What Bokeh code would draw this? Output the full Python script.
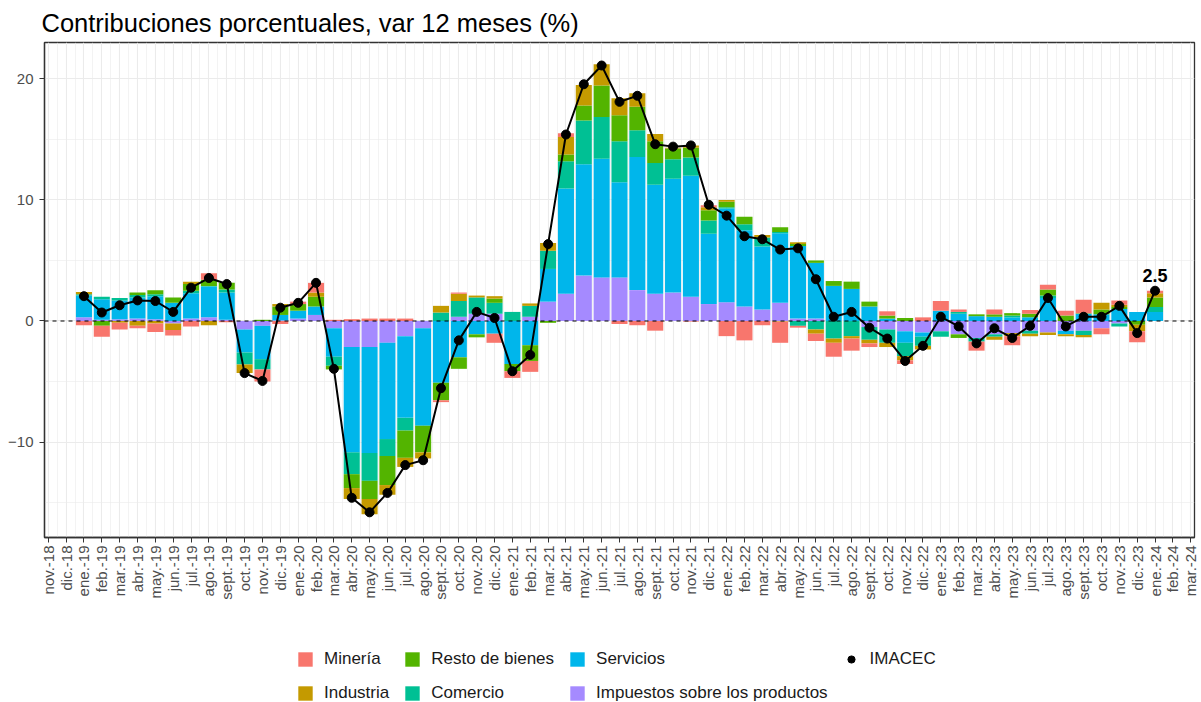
import numpy as np
from bokeh.plotting import figure
from bokeh.layouts import column
from bokeh.models import FixedTicker, Span, Legend, LegendItem, ColumnDataSource
from bokeh.embed import file_html
from bokeh.resources import INLINE
from bokeh.core.properties import value

# ---------------- data ----------------
axis_labels = [
    "nov.-18", "dic.-18",
    "ene.-19", "feb.-19", "mar.-19", "abr.-19", "may.-19", "jun.-19",
    "jul.-19", "ago.-19", "sept.-19", "oct.-19", "nov.-19", "dic.-19",
    "ene.-20", "feb.-20", "mar.-20", "abr.-20", "may.-20", "jun.-20",
    "jul.-20", "ago.-20", "sept.-20", "oct.-20", "nov.-20", "dic.-20",
    "ene.-21", "feb.-21", "mar.-21", "abr.-21", "may.-21", "jun.-21",
    "jul.-21", "ago.-21", "sept.-21", "oct.-21", "nov.-21", "dic.-21",
    "ene.-22", "feb.-22", "mar.-22", "abr.-22", "may.-22", "jun.-22",
    "jul.-22", "ago.-22", "sept.-22", "oct.-22", "nov.-22", "dic.-22",
    "ene.-23", "feb.-23", "mar.-23", "abr.-23", "may.-23", "jun.-23",
    "jul.-23", "ago.-23", "sept.-23", "oct.-23", "nov.-23", "dic.-23",
    "ene.-24", "feb.-24", "mar.-24",
]

meses = axis_labels[2:63]  # ene.-19 ... ene.-24

mineria = [-0.35, -0.9, -0.55, -0.2, -0.7, -0.45, -0.45, 0.55, -0.1, 0.0, -1.0, -0.25,
           0.2, 0.8, 0.1, 0.15, 0.2, 0.2, 0.2, 0.0, -0.15, 0.1, 0.0, -0.75,
           -0.55, -0.9, 0.0, 0.3, 0.0, 0.0, -0.25, -0.35, -0.8, 0.0, -0.05, 0.15,
           -1.25, -1.6, -0.35, -1.75, -0.15, -0.6, -1.15, -1.0, -0.3, 0.35, -0.3, 0.3,
           0.8, 0.2, -0.75, 0.4, -0.75, 0.3, 0.4, 0.4, 1.1, -0.5, 0.35, -0.9,
           0.2]
industria = [0.2, 0.0, -0.15, -0.4, -0.2, -0.55, 0.2, -0.35, 0.0, -0.7, 0.0, 0.2,
             0.0, 0.35, 0.0, -0.9, -1.25, -0.8, -0.75, -0.5, 0.55, 0.6, 0.15, 0.2,
             0.0, 0.2, 0.65, 1.45, 1.7, 1.75, 1.4, 1.1, 0.6, 0.05, 0.2, 0.25,
             0.15, 0.0, 0.2, -0.05, 0.15, -0.35, -0.35, -0.2, -0.3, -0.35, -0.35, -0.3,
             0.0, 0.0, 0.0, -0.25, -0.25, -0.2, -0.2, -0.15, -0.2, 0.55, 0.2, -0.55,
             0.35]
resto = [0.0, -0.4, 0.0, 0.2, 0.33, 0.45, 0.55, 0.5, 0.55, 0.0, 0.1, 0.7,
         0.55, 0.8, -0.3, -1.15, -1.5, -2.4, -2.25, -2.2, -1.45, -0.95, -0.25, 0.35,
         -0.6, -1.3, -0.15, 0.55, 1.25, 2.6, 2.15, 1.95, 1.8, 0.9, 0.8, 0.85,
         0.45, 0.6, 0.0, 0.4, 0.15, 0.2, 0.4, 0.6, 0.4, 0.25, 0.25, 0.0,
         0.0, -0.3, 0.15, 0.2, 0.2, 0.3, 0.5, 0.45, 0.05, 0.4, 0.15, -0.3,
         0.8]
comercio = [0.1, 0.2, 0.2, 0.2, 0.15, 0.0, 0.2, 0.05, 0.25, -1.0, -0.85, 0.0,
            0.0, 0.0, -0.75, -1.8, -2.3, -1.4, -1.05, 0.0, 0.7, 1.3, 1.35, 0.9,
            0.75, 0.9, 1.5, 2.25, 3.6, 3.45, 3.4, 2.2, 1.8, 1.6, 1.5, 1.1,
            0.1, 0.5, 0.75, 0.1, -0.4, -0.7, -1.45, -1.25, -1.05, -1.1, -1.1, -0.75,
            -0.45, 0.15, -0.3, -0.2, 0.15, -0.25, 0.2, 0.0, -0.35, 0.0, -0.25, 0.0,
            0.4]
servicios = [1.8, 1.7, 1.55, 1.75, 1.9, 1.5, 2.1, 2.55, 2.25, -1.9, -2.75, 0.45,
             0.65, 0.7, -2.35, -8.7, -8.75, -7.95, -6.75, -8.05, -5.1, -3.0, -1.1, -1.05,
             -3.55, -2.0, 2.7, 8.7, 9.2, 9.8, 7.85, 11.0, 9.0, 9.4, 10.0, 5.8,
             7.75, 6.3, 5.2, 5.75, 6.0, 4.6, 2.9, 2.65, 1.2, 0.2, -0.95, -0.35,
             0.85, 0.6, 0.4, 0.35, 0.3, 0.3, 1.9, -0.3, 0.6, 0.55, 1.0, 0.75,
             0.75]
impuestos = [0.3, 0.1, 0.15, 0.2, 0.15, -0.2, 0.2, 0.3, 0.1, -0.7, -0.4, 0.05,
             0.2, 0.5, -0.6, -2.15, -2.15, -1.8, -1.25, -0.6, 0.0, 0.35, 0.6, 0.6,
             0.0, 0.35, 1.6, 2.25, 3.75, 3.6, 3.6, 2.55, 2.25, 2.35, 2.0, 1.4,
             1.55, 1.2, 0.95, 1.5, 0.2, 0.2, 0.0, 0.0, -0.5, -0.7, -0.85, -0.95,
             -0.85, -1.1, -1.4, -1.1, -1.0, -0.8, -0.95, -0.8, -0.8, -0.6, -0.2, 0.0,
             0.0]
imacec = [2.05, 0.7, 1.3, 1.7, 1.65, 0.75, 2.75, 3.55, 3.05, -4.3, -4.95, 1.1,
          1.5, 3.15, -3.95, -14.6, -15.8, -14.2, -11.9, -11.5, -5.55, -1.6, 0.75, 0.25,
          -4.15, -2.8, 6.35, 15.4, 19.55, 21.1, 18.1, 18.6, 14.6, 14.4, 14.5, 9.6,
          8.7, 7.0, 6.75, 5.9, 6.0, 3.45, 0.35, 0.75, -0.55, -1.45, -3.3, -2.05,
          0.35, -0.45, -1.85, -0.6, -1.4, -0.4, 1.9, -0.45, 0.35, 0.35, 1.25, -1.0,
          2.5]

legend_order = ["Minería", "Industria", "Resto de bienes", "Comercio",
                "Servicios", "Impuestos sobre los productos"]
colors = {"Minería": "#F8766D", "Industria": "#C49A00", "Resto de bienes": "#53B400",
          "Comercio": "#00C094", "Servicios": "#00B6EB",
          "Impuestos sobre los productos": "#A58AFF"}
series = {"Minería": mineria, "Industria": industria, "Resto de bienes": resto,
          "Comercio": comercio, "Servicios": servicios,
          "Impuestos sobre los productos": impuestos}

# ---------------- main figure ----------------
FONT = "Liberation Sans"
x = np.array([axis_labels.index(m) for m in meses], dtype=float)
n_lab = len(axis_labels)
XR = (-0.21, n_lab - 1 + 0.21)

p = figure(width=1200, height=640, output_backend="svg", toolbar_location=None,
           x_range=XR, y_range=(-17.88, 23.0),
           min_border_left=44, min_border_right=6, min_border_top=42,
           min_border_bottom=103,
           title="Contribuciones porcentuales, var 12 meses (%)")
p.background_fill_color = "white"
p.border_fill_color = "white"
p.outline_line_color = "#333333"
p.outline_line_width = 1.3
p.outline_line_alpha = 1.0

p.title.text_font = FONT
p.title.text_font_size = "25.5px"
p.title.text_font_style = "normal"
p.title.text_color = "black"
p.title.offset = -3
p.title.standoff = 12

# axes
p.xaxis.ticker = FixedTicker(ticks=list(range(n_lab)),
                             minor_ticks=[i + 0.5 for i in range(n_lab - 1)])
p.xaxis.major_label_overrides = {i: lab for i, lab in enumerate(axis_labels)}
p.xaxis.major_label_orientation = np.pi / 2
p.yaxis.ticker = FixedTicker(ticks=[-10, 0, 10, 20], minor_ticks=[-15, -5, 5, 15])
for ax in (p.xaxis, p.yaxis):
    ax.major_label_text_font = FONT
    ax.major_label_text_font_size = "15px"
    ax.major_label_text_color = "#4D4D4D"
    ax.axis_line_color = "#333333"
    ax.axis_line_width = 1.3
    ax.major_tick_line_color = "#333333"
    ax.major_tick_out = 5
    ax.major_tick_in = 0
    ax.minor_tick_out = 0
    ax.minor_tick_in = 0
p.xaxis.major_label_standoff = 3
p.yaxis.major_label_standoff = 6

for g in (p.xgrid, p.ygrid):
    g.grid_line_color = "#EBEBEB"
    g.grid_line_width = 1.1
    g.minor_grid_line_color = "#EBEBEB"
    g.minor_grid_line_width = 0.6

# stacked bars: positives and negatives stacked separately (closest to 0 first)
pos = np.zeros(len(meses))
neg = np.zeros(len(meses))
sources = {}
for name in reversed(legend_order):
    v = np.array(series[name], dtype=float)
    bottom = np.where(v >= 0, pos, neg)
    top = bottom + v
    pos = pos + np.clip(v, 0, None)
    neg = neg + np.clip(v, None, 0)
    sources[name] = ColumnDataSource(dict(x=x, bottom=bottom, top=top))
    p.vbar(x="x", bottom="bottom", top="top", width=0.9, source=sources[name],
           fill_color=colors[name], line_color=None)

p.add_layout(Span(location=0, dimension="width", line_color="black",
                  line_width=1.2, line_dash="4 4"))

isrc = ColumnDataSource(dict(x=x, y=imacec))
p.line("x", "y", source=isrc, line_color="black", line_width=2)
p.scatter("x", "y", source=isrc, size=9, fill_color="black", line_color="black")

last = ColumnDataSource(dict(x=[x[-1]], y=[imacec[-1]], t=[f"{imacec[-1]:.1f}"]))
p.text("x", "y", text="t", source=last, text_align="center",
       text_baseline="alphabetic", y_offset=-15, text_font=value(FONT),
       text_font_size="18px", text_font_style="bold", text_color="black")

# ---------------- legend strip (same sources; its y range lies above all data) ----------------
lg = figure(width=1200, height=62, output_backend="svg", toolbar_location=None,
            x_range=XR, y_range=(30, 31), x_axis_type=None, y_axis_type=None,
            min_border=0, outline_line_color=None)
lg.xgrid.visible = False
lg.ygrid.visible = False
lg.background_fill_color = "white"
lg.border_fill_color = "white"

leg_r = {}
for name in legend_order:
    leg_r[name] = lg.vbar(x="x", bottom="bottom", top="top", width=0.9,
                          source=sources[name], fill_color=colors[name],
                          line_color=None)
pt_r = lg.scatter("x", "y", source=isrc, size=9, fill_color="black",
                  line_color="black")

items = [LegendItem(label=nm, renderers=[leg_r[nm]]) for nm in legend_order]
items.append(LegendItem(label="IMACEC", renderers=[pt_r]))
legend = Legend(items=items, orientation="vertical", nrows=2,
                location=(252, -1), margin=0, padding=0, spacing=14,
                glyph_width=18, glyph_height=18, label_height=18,
                label_standoff=10, label_text_font=FONT,
                label_text_font_size="17px", label_text_color="#1A1A1A",
                border_line_color=None, background_fill_alpha=0)
lg.add_layout(legend, "center")

layout = column(p, lg, spacing=0)
open("out.html", "w").write(file_html(layout, INLINE))
